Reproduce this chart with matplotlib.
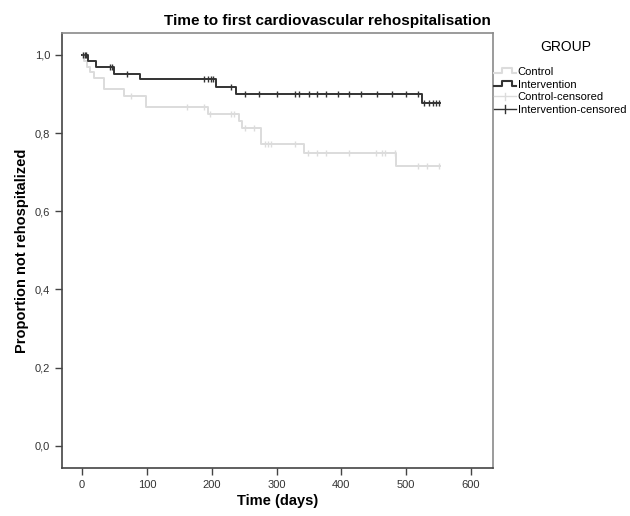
import numpy as np
import matplotlib
matplotlib.use("Agg")
import matplotlib.pyplot as plt
from matplotlib.lines import Line2D
from matplotlib.legend_handler import HandlerBase

plt.rcParams['font.family'] = ['Liberation Sans', 'DejaVu Sans']

# Kaplan-Meier steps (day, proportion after the drop)
ctrl_days = [0, 3, 8, 12, 18, 34, 64, 99, 194, 242, 246, 276, 342, 484]
ctrl_surv = [1.0, 0.985, 0.97, 0.955, 0.94, 0.912, 0.896, 0.866, 0.848, 0.830, 0.812, 0.772, 0.748, 0.716]
ctrl_cens = [2, 76, 162, 188, 198, 229, 234, 251, 265, 282, 287, 292, 329,
             349, 363, 377, 412, 454, 462, 468, 483, 518, 532, 550]
ctrl_end = 552

int_days = [0, 9, 22, 49, 90, 206, 237, 524]
int_surv = [1.0, 0.985, 0.968, 0.952, 0.938, 0.918, 0.899, 0.878]
int_cens = [2, 4, 6, 43, 46, 69, 188, 194, 199, 202, 230, 251, 273, 301, 329,
            334, 350, 363, 377, 395, 412, 430, 455, 478, 500, 518,
            528, 535, 541, 546, 550]
int_end = 552

groups = ["Control", "Intervention"]
ctrl_color = "#dcdcdc"
int_color = "#333333"


def surv_at(days, surv, t):
    idx = np.searchsorted(days, t, side="right") - 1
    return np.array(surv)[idx]


fig = plt.figure(figsize=(6.3, 5.16), dpi=100)
ax = fig.add_axes([62 / 630, 48 / 516, 431 / 630, 435 / 516])

for days, surv, cens, end, col in [
        (ctrl_days, ctrl_surv, ctrl_cens, ctrl_end, ctrl_color),
        (int_days, int_surv, int_cens, int_end, int_color)]:
    x = list(days) + [end]
    y = list(surv) + [surv[-1]]
    ax.step(x, y, where="post", color=col, lw=1.4, zorder=3)
    cx = np.array(cens)
    ax.plot(cx, surv_at(days, surv, cx), ls="none", marker="|", ms=5,
            mew=1.0, color=col, zorder=4)

ax.set_xlim(-31, 634)
ax.set_ylim(-0.057, 1.056)
ax.set_xticks(np.arange(0, 601, 100))
ax.set_yticks(np.arange(0, 1.01, 0.2))
ax.set_yticklabels([f"{v:.1f}".replace(".", ",") for v in np.arange(0, 1.01, 0.2)])
ax.tick_params(direction="out", length=5, width=1, colors="#444444",
               labelsize=8, labelcolor="#333333")
for s in ["left", "bottom"]:
    ax.spines[s].set_color("#444444")
    ax.spines[s].set_linewidth(1.2)
for s in ["top", "right"]:
    ax.spines[s].set_color("#8a8a8a")
    ax.spines[s].set_linewidth(1.2)

ax.set_xlabel("Time (days)", fontsize=10.5, fontweight="bold", labelpad=3)
ax.set_ylabel("Proportion not rehospitalized", fontsize=10.5, fontweight="bold", labelpad=4)
fig.text(327 / 630, 1 - 21 / 516, "Time to first cardiovascular rehospitalisation",
         ha="center", va="center", fontsize=11, fontweight="bold")


class StepHandler(HandlerBase):
    def create_artists(self, legend, orig, xd, yd, width, height, fontsize, trans):
        xs = [xd, xd + width * 0.35, xd + width * 0.35, xd + width * 0.8, xd + width * 0.8, xd + width]
        ys = [yd + height * 0.2, yd + height * 0.2, yd + height * 0.85, yd + height * 0.85,
              yd + height * 0.2, yd + height * 0.2]
        ln = Line2D(xs, ys, color=orig.get_color(), lw=1.5, transform=trans)
        return [ln]


class CensHandler(HandlerBase):
    def create_artists(self, legend, orig, xd, yd, width, height, fontsize, trans):
        h = Line2D([xd, xd + width], [yd + height / 2] * 2, color=orig.get_color(),
                   lw=1.0, transform=trans)
        v = Line2D([xd + width / 2] * 2, [yd, yd + height], color=orig.get_color(),
                   lw=1.0, transform=trans)
        return [h, v]


h_ctrl = Line2D([], [], color=ctrl_color)
h_int = Line2D([], [], color=int_color)
h_cc = Line2D([], [], color=ctrl_color)
h_ic = Line2D([], [], color=int_color)
leg = fig.legend([h_ctrl, h_int, h_cc, h_ic],
                 groups + [g + "-censored" for g in groups],
                 handler_map={h_ctrl: StepHandler(), h_int: StepHandler(),
                              h_cc: CensHandler(), h_ic: CensHandler()},
                 loc="upper left", bbox_to_anchor=(492 / 630, 1 - 38 / 516),
                 frameon=False, fontsize=8, title="GROUP", title_fontsize=10,
                 handlelength=2.0, handletextpad=0.1, labelspacing=0.25,
                 borderaxespad=0, borderpad=0.2)
leg._legend_box.align = "left"
leg._legend_box.sep = 9
leg.get_title().set_position((46, 0))

fig.savefig("out.png", dpi=100)
